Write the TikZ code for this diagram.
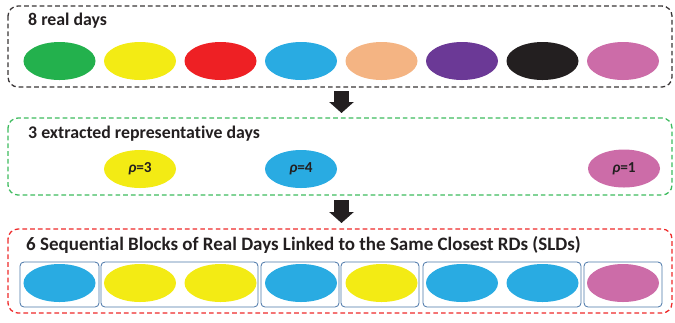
\documentclass[tikz,border=0pt]{standalone}
\usepackage{fontspec}
\setmainfont{Carlito}[Ligatures=NoCommon]
\usetikzlibrary{shapes.geometric,arrows.meta}

\definecolor{dgreen}{HTML}{23B14D}
\definecolor{dyellow}{HTML}{F3EB14}
\definecolor{dred}{HTML}{EE2024}
\definecolor{dblue}{HTML}{29ABE2}
\definecolor{dpeach}{HTML}{F4B483}
\definecolor{dpurple}{HTML}{6B3996}
\definecolor{dblack}{HTML}{231F20}
\definecolor{dpink}{HTML}{CC6CA8}
\definecolor{framegreen}{HTML}{3DBB5E}
\definecolor{framered}{HTML}{EE2A2A}
\definecolor{blockline}{HTML}{4A76A8}

\tikzset{
  panel/.style={line width=1.1pt, dash pattern=on 4pt off 2.6pt, rounded corners=0.3cm},
  title/.style={anchor=base west, inner sep=0pt, font=\bfseries\fontsize{15.2}{18}\selectfont, text=dblack},
  day/.style={ellipse, fill=#1, minimum width=2.16cm, minimum height=1.14cm, inner sep=0pt},
  weight/.style={font=\bfseries\fontsize{13}{15}\selectfont, text=dblack},
  slot/.style={draw=blockline, line width=0.7pt, rounded corners=0.12cm},
  bigarrow/.style={line width=0.45cm, dblack, -{Triangle[width=0.72cm,length=0.33cm]}}
}

\begin{document}
\begin{tikzpicture}[x=0.03cm,y=-0.03cm]
    \useasboundingbox (0,0) rectangle (675,322);

    % real days
    \draw[panel, dblack!90] (8,6) rectangle (672,87);
    \node[title] (t1) at (28,25) {8 real days};
    \foreach \c [count=\i] in {dgreen,dyellow,dred,dblue,dpeach,dpurple,dblack,dpink}
        \node[day=\c] (d\i) at ({59.5+80.5*(\i-1)},61) {};

    % representative days
    \draw[panel, framegreen] (8,118) rectangle (672,195);
    \node[title] (t2) at (28,138) {3 extracted representative days};
    \node[day=dyellow] (r1) at (140,169) {};
    \node[day=dblue] (r2) at (301,169) {};
    \node[day=dpink] (r3) at (624,168.5) {};
    \node[weight] at (r1) {\textit{ρ}=3};
    \node[weight] at (r2) {\textit{ρ}=4};
    \node[weight] at (r3) {\textit{ρ}=1};

    % blocks
    \draw[panel, framered] (8,229) rectangle (672,313);
    \node[title, font=\bfseries\fontsize{16.2}{19}\selectfont] (t3) at (26,250) {6 Sequential Blocks of Real Days Linked to the Same Closest RDs (SLDs)};
    \draw[slot] (20,262) rectangle (99,307);
    \draw[slot] (101,262) rectangle (258,307);
    \draw[slot] (261,262) rectangle (339,307);
    \draw[slot] (341,262) rectangle (419,307);
    \draw[slot] (423,262) rectangle (581,307);
    \draw[slot] (584,262) rectangle (662,307);
    \foreach \c [count=\i] in {dblue,dyellow,dyellow,dblue,dyellow,dblue,dblue,dpink}
        \node[day=\c] (s\i) at ({59.5+80.5*(\i-1)},283) {};

    % arrows
    \coordinate (a1s) at (341.5,91);
    \coordinate (a1e) at (341.5,113);
    \coordinate (a2s) at (341.5,200);
    \coordinate (a2e) at (341.5,223);
    \draw[bigarrow] (a1s) -- (a1e);
    \draw[bigarrow] (a2s) -- (a2e);
\end{tikzpicture}
\end{document}
